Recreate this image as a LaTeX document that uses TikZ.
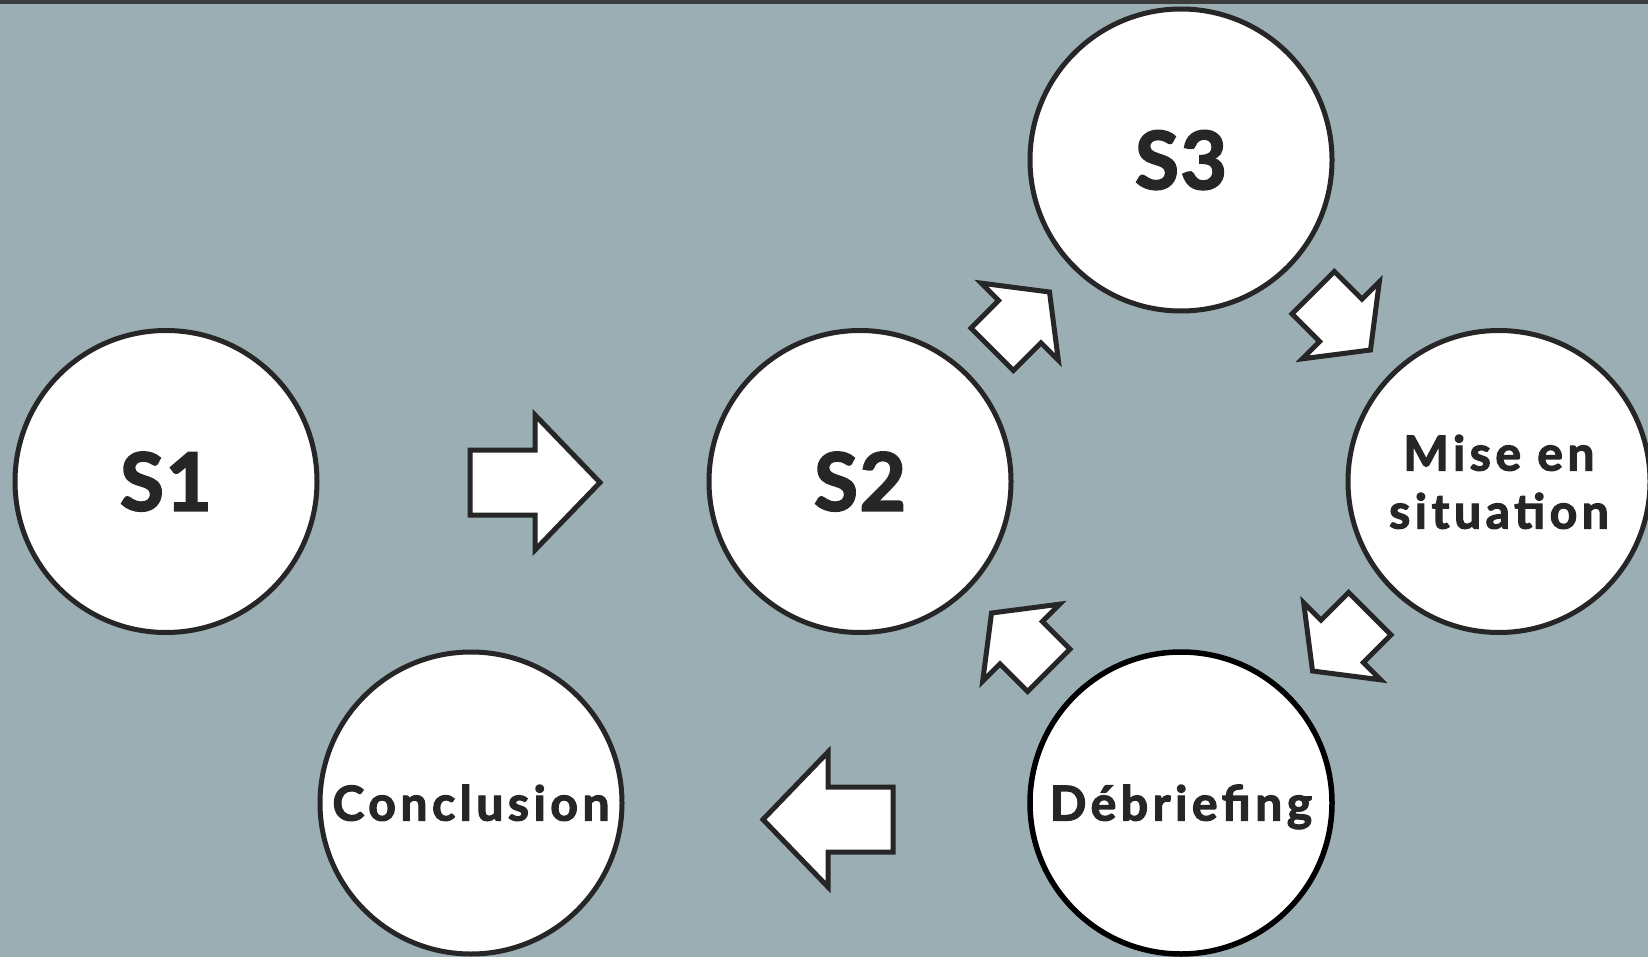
\documentclass[tikz,border=0pt]{standalone}
\usepackage{fontspec}
\setmainfont{Lato}
\definecolor{bg}{RGB}{155,174,180}
\definecolor{ink}{RGB}{38,38,38}
\definecolor{topbar}{RGB}{60,60,60}
\tikzset{
  circ/.style={circle, draw=ink, line width=5pt, fill=white, minimum size=302pt,
    inner sep=0pt, text=ink,
    font=\bfseries\fontsize{80}{80}\selectfont\addfontfeatures{FakeBold=2.5,LetterSpace=2},
    text height=58pt, text depth=0pt},
  smalltxt/.style={font=\bfseries\fontsize{48}{58}\selectfont\addfontfeatures{FakeBold=2.5,LetterSpace=9.5},
    text height=35pt, text depth=0pt},
  arrowbody/.style={draw=ink, line width=5pt, fill=white, line join=miter, miter limit=10},
  smallarrow/.pic={\draw[arrowbody] (-40,-30) -- (-1,-30) -- (-1,-54.5) -- (41,0)
     -- (-1,54.5) -- (-1,30) -- (-40,30) -- cycle;},
  bigarrow/.pic={\draw[arrowbody] (-65,-32.5) -- (0,-32.5) -- (0,-67.5) -- (65,0)
     -- (0,67.5) -- (0,32.5) -- (-65,32.5) -- cycle;}
}
\begin{document}
\begin{tikzpicture}[x=1pt, y=-1pt]
  \useasboundingbox (0,0) rectangle (1648,957);
  \fill[bg] (0,0) rectangle (1648,957);
  \fill[topbar] (0,0) rectangle (1648,4);

  \node[circ] (s1) at (166,481.5) {S1};
  \node[circ] (s2) at (860,481.5) {S2};
  \node[circ] (s3) at (1181,160) {S3};
  \node[circ, smalltxt, align=center, text height=94pt, text depth=0pt] (mise) at (1499,481.5) {Mise en\\situation};
  \node[circ, smalltxt, draw=black, line width=5.5pt] (debrief) at (1181,803) {Débriefing};
  \node[circ, smalltxt] (concl) at (471,803) {Conclusion};

  \pic at (535,482.5) {bigarrow};
  \pic[rotate=180] at (828,819.5) {bigarrow};

  \pic[rotate=45] at (1020.5,321) {smallarrow};
  \pic[rotate=-45] at (1341.5,321) {smallarrow};
  \pic[rotate=-135] at (1341.5,642) {smallarrow};
  \pic[rotate=135] at (1020.5,642) {smallarrow};
\end{tikzpicture}
\end{document}
